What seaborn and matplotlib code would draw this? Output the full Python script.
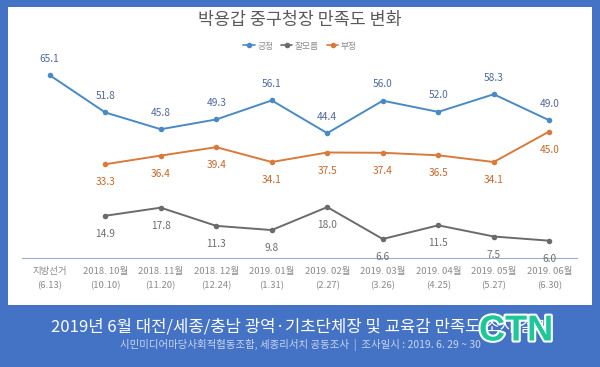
import matplotlib.pyplot as plt
import matplotlib.patheffects as pe
from matplotlib.patches import Rectangle
import seaborn as sns
import pandas as pd
import numpy as np

dates = ["지방선거\n(6.13)", "2018. 10월\n(10.10)", "2018. 11월\n(11.20)", "2018. 12월\n(12.24)",
         "2019. 01월\n(1.31)", "2019. 02월\n(2.27)", "2019. 03월\n(3.26)", "2019. 04월\n(4.25)",
         "2019. 05월\n(5.27)", "2019. 06월\n(6.30)"]
positive = [65.1, 51.8, 45.8, 49.3, 56.1, 44.4, 56.0, 52.0, 58.3, 49.0]
unknown = [np.nan, 14.9, 17.8, 11.3, 9.8, 18.0, 6.6, 11.5, 7.5, 6.0]
negative = [np.nan, 33.3, 36.4, 39.4, 34.1, 37.5, 37.4, 36.5, 34.1, 45.0]

series = ["긍정", "잘모름", "부정"]
colors = {"긍정": "#4a8ac4", "잘모름": "#6b6b6b", "부정": "#d97a3a"}
label_colors = {"긍정": "#50689a", "잘모름": "#6e6e6e", "부정": "#c4672c"}

sns.set_style("white")
plt.rcParams["font.family"] = ["Noto Sans CJK KR", "DejaVu Sans"]

df = pd.DataFrame({"x": list(range(len(dates))) * 3,
                   "value": positive + unknown + negative,
                   "series": [s for s in series for _ in dates]})

fig = plt.figure(figsize=(6, 3.67), dpi=100)
fig.patch.set_facecolor("#4472c4")
# white inner panel
fig.add_artist(Rectangle((8 / 600, 1 - 305 / 367), 584 / 600, 298 / 367,
                         transform=fig.transFigure, facecolor="white", edgecolor="none", zorder=0))

ax = fig.add_axes([22 / 600, 1 - 257.5 / 367, 555 / 600, 196 / 367])
ax.set_facecolor("none")
sns.lineplot(data=df, x="x", y="value", hue="series", hue_order=series, palette=colors,
             marker="o", markersize=4, markeredgewidth=0, linewidth=1.4, ax=ax, legend=False)

offsets = {"긍정": 12, "잘모름": -13, "부정": -13}
vals = {"긍정": positive, "잘모름": unknown, "부정": negative}
for s in series:
    for i, v in enumerate(vals[s]):
        if np.isnan(v):
            continue
        ax.annotate(f"{v:.1f}", (i, v), xytext=(0, offsets[s]), textcoords="offset points",
                    ha="center", va="center", fontsize=7.3, color=label_colors[s])

ax.set_xlim(-0.5, 9.5)
ax.set_ylim(0, 70)
ax.set_xticks(range(len(dates)))
ax.set_xticklabels(dates, fontsize=6.8, color="#8a8a8a", linespacing=1.75)
ax.set_yticks([])
ax.set_xlabel("")
ax.set_ylabel("")
for side in ["top", "right", "left"]:
    ax.spines[side].set_visible(False)
ax.spines["bottom"].set_color("#9aaed0")
ax.spines["bottom"].set_linewidth(0.8)
ax.tick_params(axis="x", direction="inout", length=4, width=0.7, color="#9aaed0", pad=5)

fig.text(0.5, 1 - 20 / 367, "박용갑 중구청장 만족도 변화", ha="center", va="center",
         fontsize=12.5, color="#5a5a5a")

# legend
handles = [plt.Line2D([], [], color=colors[s], marker="o", markersize=3, linewidth=1.2) for s in series]
fig.legend(handles, series, loc="center", bbox_to_anchor=(0.5, 1 - 46 / 367), ncol=3, frameon=False,
           fontsize=6.3, labelcolor="#8a8a8a", handlelength=1.3, handletextpad=0.3, columnspacing=0.9)

fig.text(0.5, 1 - 327 / 367, "2019년 6월 대전/세종/충남 광역·기초단체장 및 교육감 만족도 조사 결과",
         ha="center", va="center", fontsize=12, color="white")
fig.text(0.5, 1 - 345 / 367, "시민미디어마당사회적협동조합, 세종리서치 공동조사  |  조사일시 : 2019. 6. 29 ~ 30",
         ha="center", va="center", fontsize=7.5, color="#c9d6f2")

logo = fig.text(516 / 600, 1 - 331 / 367, "CTN", ha="center", va="center", fontsize=26,
                fontweight="bold", color="#1ec79a", family="Liberation Sans")
logo.set_path_effects([pe.withStroke(linewidth=3, foreground="white")])

fig.savefig("out.png", dpi=100, facecolor=fig.get_facecolor())
